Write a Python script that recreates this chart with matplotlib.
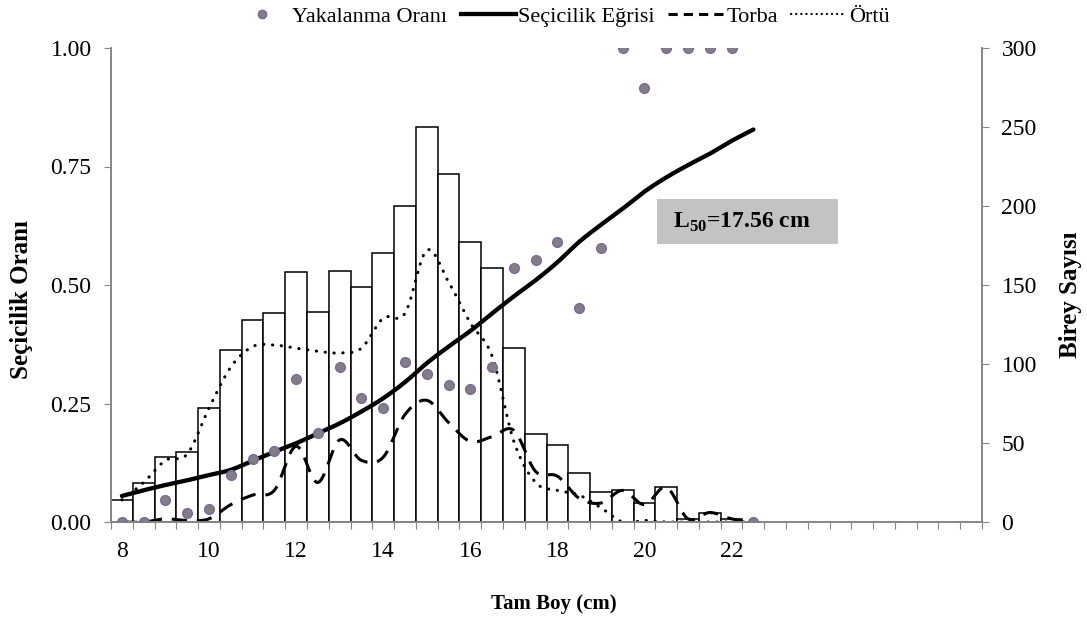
import numpy as np
import matplotlib
matplotlib.use("Agg")
import matplotlib.pyplot as plt
from matplotlib.lines import Line2D
from matplotlib.patches import Rectangle

plt.rcParams['font.family'] = ['Liberation Serif', 'DejaVu Serif']
plt.rcParams['mathtext.fontset'] = 'custom'
plt.rcParams['mathtext.rm'] = 'Liberation Serif'
plt.rcParams['mathtext.bf'] = 'Liberation Serif:bold'

# boy sınıfları (cm)
boy = [8, 8.5, 9, 9.5, 10, 10.5, 11, 11.5, 12, 12.5, 13, 13.5, 14, 14.5, 15,
       15.5, 16, 16.5, 17, 17.5, 18, 18.5, 19, 19.5, 20, 20.5, 21, 21.5, 22, 22.5]

# toplam birey sayısı (torba + örtü), 8-22 cm
birey = [14, 25, 41, 44, 72, 109, 128, 132, 158, 133, 159, 149, 170, 200, 250,
         220, 177, 161, 110, 56, 49, 31, 19, 20, 12, 22, 2, 6, 2]

torba = [0, 0, 2, 1, 2, 11, 17, 20, 48, 25, 52, 39, 41, 68, 77,
         63, 51, 54, 58, 32, 29, 15, 12, 20, 11, 22, 2, 6, 2, 0]

ortu = [14, 25, 39, 43, 72, 98, 111, 112, 110, 108, 107, 110, 129, 132, 172,
        152, 126, 105, 51, 25, 20, 17, 9, 0, 1, 0, 0, 0, 0, 0]

yakalanma = [0.0, 0.0, 0.046, 0.020, 0.027, 0.100, 0.132, 0.150, 0.302, 0.187,
             0.327, 0.261, 0.240, 0.338, 0.312, 0.290, 0.281, 0.328, 0.536, 0.553,
             0.591, 0.451, 0.579, 1.0, 0.915, 1.0, 1.0, 1.0, 1.0, 0.0]

secicilik = [0.055, 0.067, 0.078, 0.088, 0.099, 0.110, 0.129, 0.148, 0.166, 0.187,
             0.208, 0.233, 0.261, 0.295, 0.335, 0.370, 0.403, 0.440, 0.476, 0.510,
             0.548, 0.591, 0.627, 0.661, 0.697, 0.727, 0.753, 0.777, 0.804, 0.828]

L50 = 17.56


def smooth(x, y, n=16):
    # Catmull-Rom egrisi (Excel'deki "düzgün çizgi" gibi)
    x = np.asarray(x, float)
    y = np.asarray(y, float)
    px = np.concatenate(([x[0]], x, [x[-1]]))
    py = np.concatenate(([y[0]], y, [y[-1]]))
    xs, ys = [], []
    t = np.linspace(0, 1, n, endpoint=False)
    for i in range(1, len(px) - 2):
        for p, out in ((px, xs), (py, ys)):
            p0, p1, p2, p3 = p[i - 1], p[i], p[i + 1], p[i + 2]
            out.extend(0.5 * (2 * p1 + (-p0 + p2) * t
                              + (2 * p0 - 5 * p1 + 4 * p2 - p3) * t ** 2
                              + (-p0 + 3 * p1 - 3 * p2 + p3) * t ** 3))
    xs.append(x[-1])
    ys.append(y[-1])
    return np.array(xs), np.array(ys)


fig = plt.figure(figsize=(10.87, 6.21), dpi=100)
ax = fig.add_axes([111 / 1087, 1 - 522 / 621, (982 - 111) / 1087, (522 - 48) / 621])
ax2 = ax.twinx()

gri = '#868686'
dot_face = '#808080'
dot_edge = '#8064a2'

# birey sayıları ve torba/örtü eğrileri (sağ eksen)
ax.bar(boy[:len(birey)], birey, width=0.5, color='white', edgecolor='black',
       linewidth=1.1, zorder=1)
tx, ty = smooth(boy, torba)
ax.plot(tx, ty, color='black', lw=2.2, dashes=(5, 3.2), zorder=2)
ox, oy = smooth(boy, ortu)
ax.plot(ox, oy, color='black', lw=2.2, dashes=(0.1, 2.8), dash_capstyle='round', zorder=2)
ax.set_ylim(0, 300)
ax.set_yticks(range(0, 301, 50))
ax.yaxis.tick_right()

# seçicilik (sol eksen)
sx, sy = smooth(boy, secicilik)
ax2.plot(sx, sy, color='black', lw=3.1, solid_capstyle='round', zorder=3)
ax2.plot(boy, yakalanma, ls='none', marker='o', ms=7, mfc=dot_face, mec=dot_edge,
         mew=1.0, zorder=4)
ax2.set_ylim(0, 1)
ax2.set_yticks([0, 0.25, 0.5, 0.75, 1.0])
ax2.set_yticklabels(['%.2f' % v for v in [0, 0.25, 0.5, 0.75, 1.0]])
ax2.yaxis.tick_left()

ax.set_xlim(7.75, 27.75)
ax.set_xticks(np.arange(7.75, 27.8, 0.5))
ax.set_xticklabels([])
ax.set_xticks(range(8, 23, 2), minor=True)
ax.set_xticklabels([str(v) for v in range(8, 23, 2)], minor=True)
ax.tick_params(axis='x', which='major', direction='out', length=5, color=gri)
ax.tick_params(axis='x', which='minor', length=0, pad=14, labelsize=17)
ax.tick_params(axis='y', direction='out', length=5, color=gri, pad=9, labelsize=17)
ax2.tick_params(axis='y', direction='out', length=5, color=gri, pad=9, labelsize=17)

for a in (ax, ax2):
    a.spines['top'].set_visible(False)
    for s in ('left', 'right', 'bottom'):
        a.spines[s].set_color(gri)
        a.spines[s].set_linewidth(1.2)

fig.text(554 / 1087, 1 - 604 / 621, 'Tam Boy (cm)', ha='center', va='center',
         fontsize=15, fontweight='bold')
fig.text(22 / 1087, 1 - 300 / 621, 'Seçicilik Oranı', ha='center', va='center',
         rotation=90, fontsize=18, fontweight='bold')
fig.text(1070 / 1087, 1 - 295 / 621, 'Birey Sayısı', ha='center', va='center',
         rotation=90, fontsize=18, fontweight='bold')

# L50 kutusu
fig.add_artist(Rectangle((657 / 1087, 1 - 244 / 621), 181 / 1087, 45 / 621,
                         transform=fig.transFigure, facecolor='#c3c3c3',
                         edgecolor='none'))
fig.text(742 / 1087, 1 - 222 / 621, r'L$_{\mathbf{50}}$=%.2f cm' % L50,
         ha='center', va='center', fontsize=17, fontweight='bold')

handles = [
    Line2D([], [], ls='none', marker='o', ms=6, mfc=dot_face, mec=dot_edge),
    Line2D([], [], color='black', lw=3.1),
    Line2D([], [], color='black', lw=2.2, dashes=(3, 2)),
    Line2D([], [], color='black', lw=1.6, dashes=(0.1, 2.2), dash_capstyle='round'),
]
fig.legend(handles, ['Yakalanma Oranı', 'Seçicilik Eğrisi', 'Torba', 'Örtü'],
           loc='center', bbox_to_anchor=(562 / 1087, 1 - 17 / 621), ncol=4,
           frameon=False, fontsize=16, handlelength=2.5, handletextpad=0.1,
           columnspacing=0.6)

fig.savefig('out.png', dpi=100)
